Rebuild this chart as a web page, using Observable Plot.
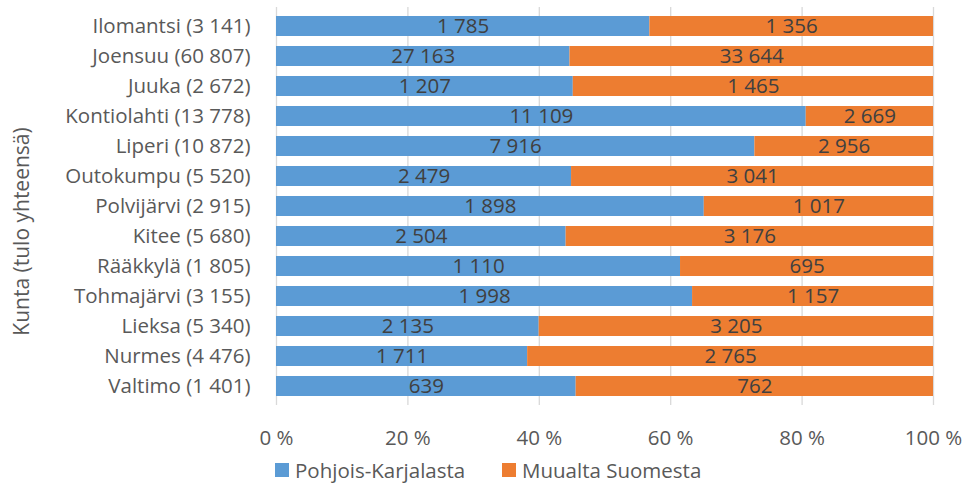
<!DOCTYPE html>
<html>
<head>
<meta charset="utf-8">
<script src="https://cdn.jsdelivr.net/npm/d3@7"></script>
<script src="https://cdn.jsdelivr.net/npm/@observablehq/plot@0.6"></script>
<style>
  html, body { margin: 0; padding: 0; background: #fff; font-family: "Open Sans", sans-serif; overflow: hidden; }
  #chart { width: 966px; height: 455px; }
  #chart svg { display: block; }
  .legend { position: relative; height: 29px; font-size: 20.5px; color: #595959; }
  .legend .item { position: absolute; top: 0; height: 29px; display: flex; align-items: center; white-space: nowrap; }
  .legend span.sw { display: inline-block; width: 14px; height: 14px; margin-right: 6px; }
</style>
</head>
<body>
<div id="chart"></div>
<script>
const kunnat = ["Ilomantsi", "Joensuu", "Juuka", "Kontiolahti", "Liperi", "Outokumpu", "Polvijärvi", "Kitee", "Rääkkylä", "Tohmajärvi", "Lieksa", "Nurmes", "Valtimo"];
const pohjoisKarjalasta = [1785, 27163, 1207, 11109, 7916, 2479, 1898, 2504, 1110, 1998, 2135, 1711, 639];
const muualtaSuomesta = [1356, 33644, 1465, 2669, 2956, 3041, 1017, 3176, 695, 1157, 3205, 2765, 762];
const sarjat = ["Pohjois-Karjalasta", "Muualta Suomesta"];
const varit = ["#5B9BD5", "#ED7D31"];
const xTicks = [0, 0.2, 0.4, 0.6, 0.8, 1];
const otsikko = "Kunta (tulo yhteensä)";

const fmt = v => d3.format(",")(v).replace(/,/g, " ");
const labels = kunnat.map((k, i) => `${k} (${fmt(pohjoisKarjalasta[i] + muualtaSuomesta[i])})`);

const data = [];
kunnat.forEach((k, i) => {
  data.push({kunta: labels[i], sarja: sarjat[0], arvo: pohjoisKarjalasta[i]});
  data.push({kunta: labels[i], sarja: sarjat[1], arvo: muualtaSuomesta[i]});
});

const chart = Plot.plot({
  width: 966,
  height: 455,
  marginLeft: 276,
  marginRight: 33,
  marginTop: 7,
  marginBottom: 50,
  style: {fontFamily: "Open Sans, sans-serif", fontSize: "20.5px", color: "#595959", background: "#fff", overflow: "visible"},
  x: {domain: [0, 1]},
  y: {domain: labels, range: [7, 405], paddingInner: 0.32, paddingOuter: 0.16},
  color: {domain: sarjat, range: varit},
  marks: [
    Plot.gridX(xTicks, {stroke: "#d9d9d9", strokeOpacity: 1, strokeWidth: 1.3}),
    Plot.barX(data, Plot.stackX({x: "arvo", y: "kunta", fill: "sarja", offset: "normalize", order: sarjat})),
    Plot.text(data, Plot.stackX({x: "arvo", y: "kunta", z: "sarja", offset: "normalize", order: sarjat, text: d => fmt(d.arvo), fill: "#404040", fontSize: 20.5})),
    Plot.axisX(xTicks, {tickSize: 0, tickPadding: 25, tickFormat: d => Math.round(d * 100) + " %", fill: "#595959", label: null, fontSize: 20.5}),
    Plot.axisY({tickSize: 0, tickPadding: 26, fill: "#595959", label: null, fontSize: 20.5}),
    Plot.text([otsikko], {text: d => d, frameAnchor: "left", textAnchor: "middle", dx: -254, dy: 25, rotate: -90, fill: "#595959", fontSize: 21})
  ]
});
document.getElementById("chart").appendChild(chart);

const legend = document.createElement("div");
legend.className = "legend";
const lefts = [275, 502];
sarjat.forEach((s, i) => {
  const it = document.createElement("div");
  it.className = "item";
  it.style.left = lefts[i] + "px";
  it.innerHTML = `<span class="sw" style="background:${varit[i]}"></span>${s}`;
  legend.appendChild(it);
});
document.body.appendChild(legend);
</script>
</body>
</html>
